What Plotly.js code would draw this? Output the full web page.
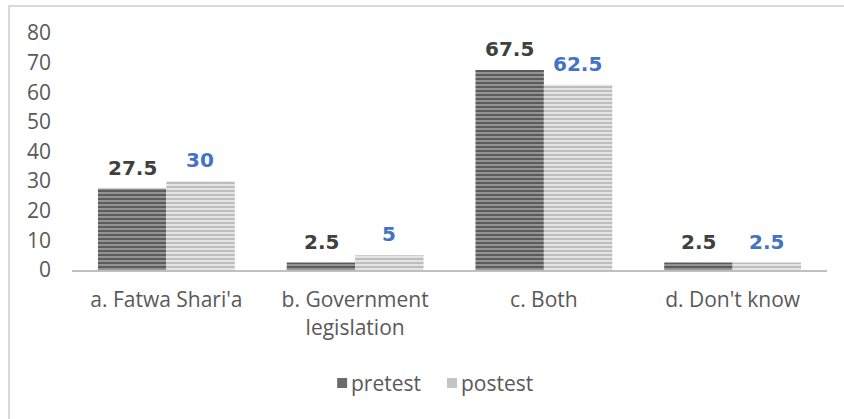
<!DOCTYPE html>
<html>
<head>
<meta charset="utf-8">
<script src="https://cdn.plot.ly/plotly-3.0.1.min.js"></script>
<style>
html,body{margin:0;padding:0;background:#fff;}
#frame{position:absolute;left:8px;top:5px;width:836px;height:414px;border-left:2px solid #d9d9d9;border-top:2px solid #d9d9d9;box-sizing:border-box;pointer-events:none;z-index:5;}
#chart{position:absolute;left:0;top:0;width:844px;height:419px;}
</style>
</head>
<body>
<div id="chart"></div>
<div id="frame"></div>
<script>
const categories = ["a. Fatwa Shari'a", "b. Government<br>legislation", "c. Both", "d. Don't know"];
const pretest = [27.5, 2.5, 67.5, 2.5];
const postest = [30, 5, 62.5, 2.5];
const seriesNames = ["pretest", "postest"];
const yTicks = [0, 10, 20, 30, 40, 50, 60, 70, 80];

const tickFont = {family: "Open Sans, sans-serif", size: 21, color: "#595959"};
const L = 71.5, R = 16.5, T = 33, B = 149, W = 844, H = 419;
const pw = W - L - R, ph = H - T - B;
const px = v => (v - L) / pw;
const py = v => (H - B - v) / ph;

const traces = [
  {
    type: "bar", name: seriesNames[0], x: categories, y: pretest,
    marker: {color: "#5a5a5a", line: {width: 0},
      pattern: {shape: "-", fgcolor: "#555555", bgcolor: "#939393", size: 4, solidity: 0.45}},
    hoverinfo: "none"
  },
  {
    type: "bar", name: seriesNames[1], x: categories, y: postest,
    marker: {color: "#bdbdbd", line: {width: 0},
      pattern: {shape: "-", fgcolor: "#bdbdbd", bgcolor: "#e4e4e4", size: 4, solidity: 0.5}},
    hoverinfo: "none"
  }
];

const annotations = [];
categories.forEach((c, i) => {
  annotations.push({x: c, y: pretest[i], xref: "x", yref: "y", text: String(pretest[i]),
    showarrow: false, xshift: -34, yshift: 7, yanchor: "bottom",
    font: {family: "DejaVu Sans, Verdana, sans-serif", size: 20, color: "#404040", weight: "bold"}});
  annotations.push({x: c, y: postest[i], xref: "x", yref: "y", text: String(postest[i]),
    showarrow: false, xshift: 34, yshift: 7, yanchor: "bottom",
    font: {family: "DejaVu Sans, Verdana, sans-serif", size: 20, color: "#4472c4", weight: "bold"}});
});

// custom legend
const legendItems = [
  {name: seriesNames[0], sx: 337, color: "#6b6b6b"},
  {name: seriesNames[1], sx: 447, color: "#c4c4c4"}
];
const shapes = [];
legendItems.forEach(it => {
  shapes.push({type: "rect", xref: "paper", yref: "paper",
    x0: px(it.sx), x1: px(it.sx + 10), y0: py(388), y1: py(378),
    fillcolor: it.color, line: {width: 0}});
  annotations.push({xref: "paper", yref: "paper", x: px(it.sx + 12), y: py(383),
    xanchor: "left", yanchor: "middle", showarrow: false, text: it.name,
    font: {family: "Open Sans, sans-serif", size: 21, color: "#595959"}});
});

const layout = {
  width: W, height: H,
  margin: {l: L, r: R, t: T, b: B},
  paper_bgcolor: "#ffffff", plot_bgcolor: "#ffffff",
  barmode: "group", bargap: 0.275, bargroupgap: 0,
  showlegend: false,
  xaxis: {showline: true, linecolor: "#bfbfbf", linewidth: 2, ticks: "", showgrid: false,
    tickfont: tickFont, zeroline: false, ticklabelstandoff: 10},
  yaxis: {range: [0, 80], tickvals: yTicks, ticktext: yTicks.map(String), showgrid: false,
    zeroline: false, showline: false, ticks: "", tickfont: tickFont, ticklabelstandoff: 20},
  annotations: annotations,
  shapes: shapes,
  font: {family: "Open Sans, sans-serif"}
};

Plotly.newPlot("chart", traces, layout, {displayModeBar: false, staticPlot: true});
</script>
</body>
</html>
